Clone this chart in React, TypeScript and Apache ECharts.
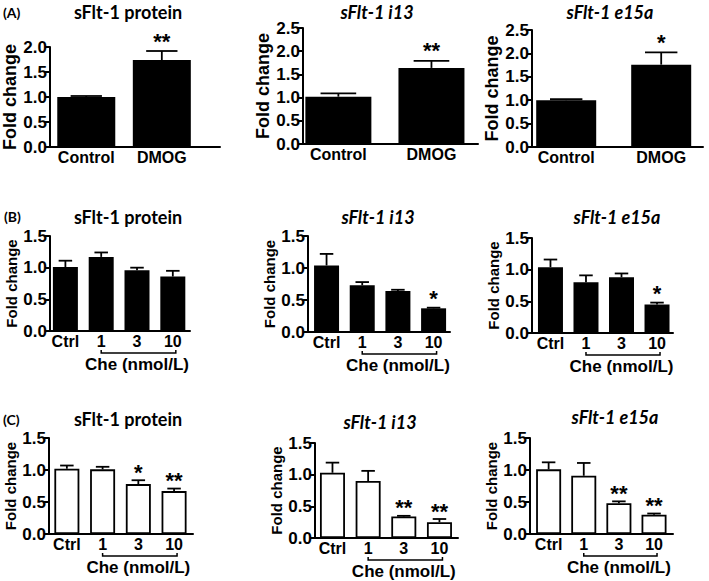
import React, { useEffect, useRef } from "react";
import * as echarts from "echarts";

// ---------- data ----------
const catsA = ["Control", "DMOG"];
const catsBC = ["Ctrl", "1", "3", "10"];

const aProteinMean = [1.0, 1.74];
const aProteinSem = [0.02, 0.18];
const aProteinStars = ["", "**"];

const aI13Mean = [1.02, 1.64];
const aI13Sem = [0.07, 0.15];
const aI13Stars = ["", "**"];

const aE15aMean = [1.0, 1.76];
const aE15aSem = [0.02, 0.26];
const aE15aStars = ["", "*"];

const bProteinMean = [1.01, 1.17, 0.96, 0.86];
const bProteinSem = [0.1, 0.07, 0.04, 0.09];
const bProteinStars = ["", "", "", ""];

const bI13Mean = [1.04, 0.73, 0.64, 0.37];
const bI13Sem = [0.18, 0.05, 0.02, 0.01];
const bI13Stars = ["", "", "", "*"];

const bE15aMean = [1.04, 0.8, 0.88, 0.45];
const bE15aSem = [0.12, 0.11, 0.06, 0.03];
const bE15aStars = ["", "", "", "*"];

const cProteinMean = [1.02, 1.01, 0.78, 0.67];
const cProteinSem = [0.05, 0.04, 0.06, 0.04];
const cProteinStars = ["", "", "*", "**"];

const cI13Mean = [1.03, 0.9, 0.34, 0.25];
const cI13Sem = [0.16, 0.16, 0.01, 0.05];
const cI13Stars = ["", "", "**", "**"];

const cE15aMean = [1.01, 0.91, 0.48, 0.3];
const cE15aSem = [0.11, 0.2, 0.03, 0.02];
const cE15aStars = ["", "", "**", "**"];

const titles = ["sFlt-1 protein", "sFlt-1 i13", "sFlt-1 e15a"];
const rowLabels = ["(A)", "(B)", "(C)"];
const yName = "Fold change";
const cheLabel = "Che (nmol/L)";

// ---------- layout ----------
const ARIAL = '"Liberation Sans", Arial, sans-serif';
const CAL = 'Lato, "Liberation Sans", sans-serif';

type Panel = {
  cats: string[];
  mean: number[];
  sem: number[];
  stars: string[];
  grid: { left: number; top: number; width: number; height: number };
  yMax: number;
  xMin: number;
  xMax: number;
  barW: number;
  fill: string;
  title: string;
  italic: boolean;
  titleX: number;
  titleY: number;
  nameGap: number;
  nameSize: number;
  labelSize: number;
  starOff: number;
  bracket: boolean;
};

const panels: Panel[] = [
  { cats: catsA, mean: aProteinMean, sem: aProteinSem, stars: aProteinStars, grid: { left: 50, top: 47, width: 170, height: 100 }, yMax: 2.0, xMin: -0.48, xMax: 1.77, barW: 58, fill: "#000", title: titles[0], italic: false, titleX: 128, titleY: 12, nameGap: 30, nameSize: 18, labelSize: 16, starOff: 1, bracket: false },
  { cats: catsA, mean: aI13Mean, sem: aI13Sem, stars: aI13Stars, grid: { left: 303, top: 28, width: 175, height: 116 }, yMax: 2.5, xMin: -0.38, xMax: 1.5, barW: 66, fill: "#000", title: titles[1], italic: true, titleX: 377, titleY: 12, nameGap: 26, nameSize: 18, labelSize: 16, starOff: 1, bracket: false },
  { cats: catsA, mean: aE15aMean, sem: aE15aSem, stars: aE15aStars, grid: { left: 532, top: 30, width: 171, height: 117 }, yMax: 2.5, xMin: -0.36, xMax: 1.44, barW: 60, fill: "#000", title: titles[2], italic: true, titleX: 610, titleY: 12, nameGap: 28, nameSize: 18, labelSize: 16, starOff: 1, bracket: false },
  { cats: catsBC, mean: bProteinMean, sem: bProteinSem, stars: bProteinStars, grid: { left: 50, top: 236, width: 140, height: 95 }, yMax: 1.5, xMin: -0.43, xMax: 3.48, barW: 25, fill: "#000", title: titles[0], italic: false, titleX: 128, titleY: 217, nameGap: 30, nameSize: 15, labelSize: 16, starOff: 2, bracket: true },
  { cats: catsBC, mean: bI13Mean, sem: bI13Sem, stars: bI13Stars, grid: { left: 308, top: 236, width: 142, height: 96 }, yMax: 1.5, xMin: -0.52, xMax: 3.46, barW: 25, fill: "#000", title: titles[1], italic: true, titleX: 378, titleY: 217, nameGap: 25, nameSize: 15, labelSize: 16, starOff: 2, bracket: true },
  { cats: catsBC, mean: bE15aMean, sem: bE15aSem, stars: bE15aStars, grid: { left: 532, top: 238, width: 141, height: 95 }, yMax: 1.5, xMin: -0.52, xMax: 3.45, barW: 25, fill: "#000", title: titles[2], italic: true, titleX: 617, titleY: 217, nameGap: 28, nameSize: 15, labelSize: 16, starOff: 2, bracket: true },
  { cats: catsBC, mean: cProteinMean, sem: cProteinSem, stars: cProteinStars, grid: { left: 49, top: 438, width: 144, height: 96 }, yMax: 1.5, xMin: -0.5, xMax: 3.53, barW: 25, fill: "#fff", title: titles[0], italic: false, titleX: 128, titleY: 419, nameGap: 28, nameSize: 15, labelSize: 16, starOff: 3, bracket: true },
  { cats: catsBC, mean: cI13Mean, sem: cI13Sem, stars: cI13Stars, grid: { left: 315, top: 443, width: 143, height: 95 }, yMax: 1.5, xMin: -0.49, xMax: 3.52, barW: 25, fill: "#fff", title: titles[1], italic: true, titleX: 380, titleY: 422, nameGap: 28, nameSize: 15, labelSize: 16, starOff: 3, bracket: true },
  { cats: catsBC, mean: cE15aMean, sem: cE15aSem, stars: cE15aStars, grid: { left: 530, top: 438, width: 143, height: 96 }, yMax: 1.5, xMin: -0.53, xMax: 3.54, barW: 25, fill: "#fff", title: titles[2], italic: true, titleX: 615, titleY: 417, nameGap: 26, nameSize: 15, labelSize: 16, starOff: 3, bracket: true },
];

const rowLabelPos = [
  { x: 3, y: 12 },
  { x: 4, y: 216 },
  { x: 3, y: 419 },
];

function buildOption() {
  const grid: any[] = [];
  const xAxis: any[] = [];
  const yAxis: any[] = [];
  const series: any[] = [];
  const graphic: any[] = [];

  panels.forEach((p, k) => {
    grid.push({ ...p.grid, containLabel: false });
    const idx = p.cats.map((_, i) => i);
    xAxis.push({
      type: "value",
      gridIndex: k,
      min: p.xMin,
      max: p.xMax,
      axisLine: { show: true, onZero: false, lineStyle: { color: "#000", width: 2 } },
      axisTick: { show: false },
      splitLine: { show: false },
      axisLabel: {
        customValues: idx,
        formatter: (v: number) => p.cats[Math.round(v)] ?? "",
        color: "#000",
        fontWeight: "bold",
        fontSize: p.labelSize,
        fontFamily: ARIAL,
        margin: 2,
      },
    });
    yAxis.push({
      type: "value",
      gridIndex: k,
      min: 0,
      max: p.yMax,
      interval: 0.5,
      axisLine: { show: true, onZero: false, lineStyle: { color: "#000", width: 2 } },
      axisTick: { show: true, length: 5, lineStyle: { color: "#000", width: 2 } },
      splitLine: { show: false },
      axisLabel: {
        color: "#000",
        fontWeight: "bold",
        fontSize: 17,
        fontFamily: ARIAL,
        margin: 3,
        formatter: (v: number) => v.toFixed(1),
      },
      name: yName,
      nameLocation: "middle",
      nameGap: p.nameGap,
      nameTextStyle: { color: "#000", fontWeight: "bold", fontSize: p.nameSize, fontFamily: ARIAL },
    });

    series.push({
      type: "bar",
      xAxisIndex: k,
      yAxisIndex: k,
      barWidth: p.barW,
      data: p.mean.map((m, i) => [i, m]),
      itemStyle: { color: p.fill, borderColor: "#000", borderWidth: p.fill === "#fff" ? 1.8 : 0 },
      silent: true,
    });

    const capHalf = p.barW * 0.27;
    series.push({
      type: "custom",
      xAxisIndex: k,
      yAxisIndex: k,
      data: p.mean.map((m, i) => [i, m, p.sem[i]]),
      renderItem: (params: any, api: any) => {
        const i = params.dataIndex;
        const x = api.value(0);
        const m = api.value(1);
        const s = api.value(2);
        const base = api.coord([x, m]);
        const top = api.coord([x, m + s]);
        const children: any[] = [
          { type: "line", shape: { x1: base[0], y1: base[1], x2: top[0], y2: top[1] }, style: { stroke: "#000", lineWidth: 1.8 } },
          { type: "line", shape: { x1: top[0] - capHalf, y1: top[1], x2: top[0] + capHalf, y2: top[1] }, style: { stroke: "#000", lineWidth: 1.8 } },
        ];
        if (p.stars[i]) {
          children.push({
            type: "text",
            x: top[0],
            y: top[1] + p.starOff,
            style: { text: p.stars[i], fill: "#000", font: `bold 22px ${ARIAL}`, align: "center", verticalAlign: "bottom" },
          });
        }
        return { type: "group", children };
      },
      silent: true,
      z: 5,
    });

    if (p.bracket) {
      series.push({
        type: "custom",
        xAxisIndex: k,
        yAxisIndex: k,
        data: [[2, 0]],
        renderItem: (_params: any, api: any) => {
          const a = api.coord([1, 0]);
          const b = api.coord([3, 0]);
          const c = api.coord([2, 0]);
          const yb = a[1] + 22;
          return {
            type: "group",
            children: [
              { type: "polyline", shape: { points: [[a[0], yb - 3], [a[0], yb], [b[0] + 3, yb], [b[0] + 3, yb - 3]] }, style: { stroke: "#000", lineWidth: 1.5, fill: "none" } },
              { type: "text", x: c[0], y: a[1] + 33, style: { text: cheLabel, fill: "#000", font: `bold 17px ${ARIAL}`, align: "center", verticalAlign: "middle" } },
            ],
          };
        },
        silent: true,
      });
    }

    graphic.push({
      type: "text",
      x: p.titleX,
      y: p.titleY,
      style: {
        text: p.title,
        fill: "#000",
        font: `${p.italic ? "italic " : ""}bold 18px ${CAL}`,
        align: "center",
        verticalAlign: "middle",
      },
    });
  });

  rowLabels.forEach((t, r) => {
    graphic.push({
      type: "text",
      x: rowLabelPos[r].x,
      y: rowLabelPos[r].y,
      style: { text: t, fill: "#000", font: `bold 14px ${CAL}`, align: "left", verticalAlign: "middle" },
    });
  });

  return {
    animation: false,
    backgroundColor: "#fff",
    grid,
    xAxis,
    yAxis,
    series,
    graphic,
  };
}

export default function App() {
  const ref = useRef<HTMLDivElement>(null);
  useEffect(() => {
    if (!ref.current) return;
    const chart = echarts.init(ref.current, undefined, { renderer: "svg" });
    chart.setOption(buildOption() as any);
    return () => chart.dispose();
  }, []);
  return <div ref={ref} style={{ position: "absolute", left: 0, top: 0, width: 709, height: 581, background: "#fff" }} />;
}
